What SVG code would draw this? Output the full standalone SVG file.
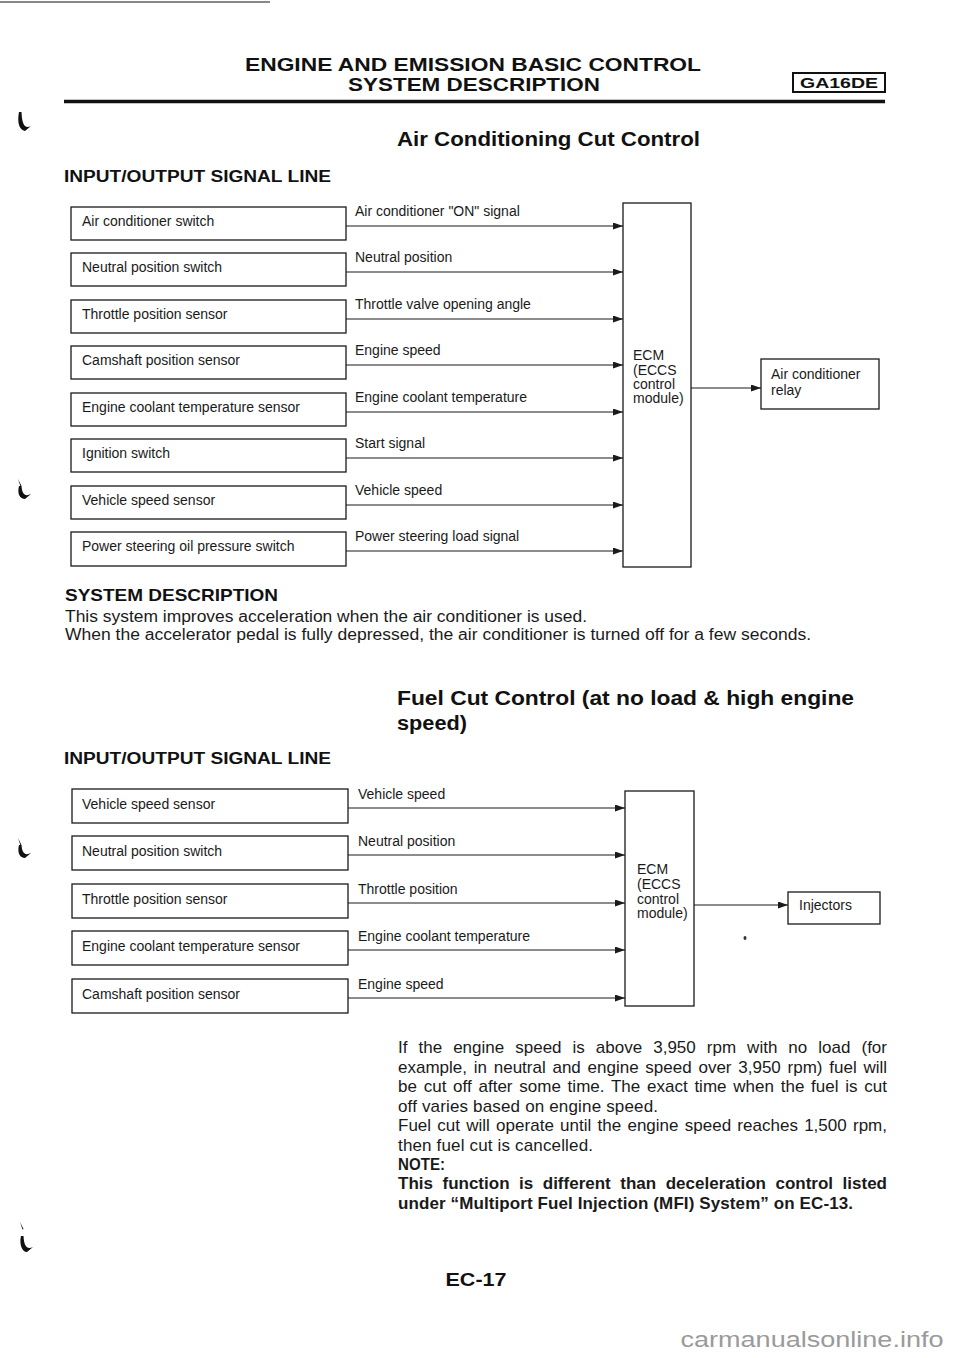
<svg xmlns="http://www.w3.org/2000/svg" width="960" height="1358" viewBox="0 0 960 1358">
<defs>
<marker id="arr" markerUnits="userSpaceOnUse" markerWidth="11" markerHeight="8" refX="10" refY="3.5" orient="auto"><path d="M0,0 L10,3.5 L0,7 Z" fill="#1a1a1a"/></marker>
<style>
.box{fill:none;stroke:#1a1a1a;stroke-width:1.3}
.t{font-family:"Liberation Sans",Arial,sans-serif;font-size:14px;fill:#1a1a1a}
.p{font-family:"Liberation Sans",Arial,sans-serif;font-size:17px;fill:#1a1a1a}
.s{font-family:"Liberation Sans",Arial,sans-serif;font-size:16px;fill:#1a1a1a}
.h{font-family:"Liberation Sans",Arial,sans-serif;font-weight:bold;fill:#111}
.conn line{stroke:#1a1a1a;stroke-width:1.2;marker-end:url(#arr)}
.mark{fill:#111}
</style>
</defs>
<rect width="960" height="1358" fill="#fff"/>
<line x1="0" y1="2" x2="270" y2="2" stroke="#888" stroke-width="2"/>
<!-- header -->
<text class="h" x="473" y="70.5" font-size="18" text-anchor="middle" textLength="456" lengthAdjust="spacingAndGlyphs">ENGINE AND EMISSION BASIC CONTROL</text>
<text class="h" x="474" y="91" font-size="18" text-anchor="middle" textLength="252" lengthAdjust="spacingAndGlyphs">SYSTEM DESCRIPTION</text>
<rect x="793" y="73" width="92" height="19" fill="none" stroke="#111" stroke-width="2"/>
<text class="h" x="839" y="88" font-size="15" text-anchor="middle" textLength="78" lengthAdjust="spacingAndGlyphs">GA16DE</text>
<line x1="64" y1="101.5" x2="885" y2="101.5" stroke="#111" stroke-width="3.5"/>
<!-- binding marks -->
<path class="mark" d="M19,112 C17,122 19,130 25,131 L31,126 C25,129 22,125 21.5,112 Z"/>
<path class="mark" d="M18,479 L21.5,486 L20.5,486.5 Z"/>
<path class="mark" d="M19,486 C17,494 20,499 25,499 L31,494 C25,497 22,494 21.5,486 Z"/>
<path class="mark" d="M18,838 L21.5,845 L20.5,845.5 Z"/>
<path class="mark" d="M19,845 C17,853 20,858 25,858 L31,853 C25,856 22,853 21.5,845 Z"/>
<path class="mark" d="M20,1222 L23.5,1229 L22.5,1229.5 Z"/>
<path class="mark" d="M21,1236 C19,1244 22,1252 27,1252 L33,1247 C27,1250 24,1246 23.5,1236 Z"/>

<text class="h" x="397" y="146" font-size="20" textLength="303" lengthAdjust="spacingAndGlyphs">Air Conditioning Cut Control</text>
<text class="h" x="64" y="182" font-size="16" textLength="267" lengthAdjust="spacingAndGlyphs">INPUT/OUTPUT SIGNAL LINE</text>

<!-- top diagram nodes -->
<g id="n-ac-switch"><rect class="box" x="71" y="207" width="275" height="33"/><text class="t" x="82" y="226">Air conditioner switch</text></g>
<g id="n-neutral-switch"><rect class="box" x="71" y="253" width="275" height="33"/><text class="t" x="82" y="272">Neutral position switch</text></g>
<g id="n-tps"><rect class="box" x="71" y="300" width="275" height="33"/><text class="t" x="82" y="319">Throttle position sensor</text></g>
<g id="n-cmp"><rect class="box" x="71" y="346" width="275" height="33"/><text class="t" x="82" y="365">Camshaft position sensor</text></g>
<g id="n-ect"><rect class="box" x="71" y="393" width="275" height="33"/><text class="t" x="82" y="412">Engine coolant temperature sensor</text></g>
<g id="n-ign"><rect class="box" x="71" y="439" width="275" height="33"/><text class="t" x="82" y="458">Ignition switch</text></g>
<g id="n-vss"><rect class="box" x="71" y="486" width="275" height="33"/><text class="t" x="82" y="505">Vehicle speed sensor</text></g>
<g id="n-ps"><rect class="box" x="71" y="532" width="275" height="34"/><text class="t" x="82" y="551">Power steering oil pressure switch</text></g>
<g id="n-ecm1"><rect class="box" x="623" y="203" width="68" height="364"/>
<text class="t" x="633" y="360">ECM</text><text class="t" x="633" y="375">(ECCS</text><text class="t" x="633" y="389">control</text><text class="t" x="633" y="403">module)</text></g>
<g id="n-relay"><rect class="box" x="761" y="359" width="118" height="50"/><text class="t" x="771" y="379">Air conditioner</text><text class="t" x="771" y="395">relay</text></g>

<g id="connectors-top" class="conn">
<line x1="346" y1="226" x2="623" y2="226"/>
<line x1="346" y1="272" x2="623" y2="272"/>
<line x1="346" y1="319" x2="623" y2="319"/>
<line x1="346" y1="365" x2="623" y2="365"/>
<line x1="346" y1="412" x2="623" y2="412"/>
<line x1="346" y1="458" x2="623" y2="458"/>
<line x1="346" y1="505" x2="623" y2="505"/>
<line x1="346" y1="551" x2="623" y2="551"/>
<line x1="691" y1="388" x2="761" y2="388"/>
</g>
<g id="labels-top">
<text class="t" x="355" y="216">Air conditioner "ON" signal</text>
<text class="t" x="355" y="262">Neutral position</text>
<text class="t" x="355" y="309">Throttle valve opening angle</text>
<text class="t" x="355" y="355">Engine speed</text>
<text class="t" x="355" y="402">Engine coolant temperature</text>
<text class="t" x="355" y="448">Start signal</text>
<text class="t" x="355" y="495">Vehicle speed</text>
<text class="t" x="355" y="541">Power steering load signal</text>
</g>

<text class="h" x="65" y="601" font-size="17" textLength="213" lengthAdjust="spacingAndGlyphs">SYSTEM DESCRIPTION</text>
<text class="s" x="65" y="622" textLength="522" lengthAdjust="spacingAndGlyphs">This system improves acceleration when the air conditioner is used.</text>
<text class="s" x="65" y="640" textLength="746" lengthAdjust="spacingAndGlyphs">When the accelerator pedal is fully depressed, the air conditioner is turned off for a few seconds.</text>

<text class="h" x="397" y="705" font-size="20" textLength="457" lengthAdjust="spacingAndGlyphs">Fuel Cut Control (at no load &amp; high engine</text>
<text class="h" x="397" y="730" font-size="20" textLength="70" lengthAdjust="spacingAndGlyphs">speed)</text>
<text class="h" x="64" y="764" font-size="16" textLength="267" lengthAdjust="spacingAndGlyphs">INPUT/OUTPUT SIGNAL LINE</text>

<!-- bottom diagram nodes -->
<g id="n2-vss"><rect class="box" x="72" y="789" width="276" height="34"/><text class="t" x="82" y="809">Vehicle speed sensor</text></g>
<g id="n2-neutral"><rect class="box" x="72" y="836" width="276" height="34"/><text class="t" x="82" y="856">Neutral position switch</text></g>
<g id="n2-tps"><rect class="box" x="72" y="884" width="276" height="34"/><text class="t" x="82" y="904">Throttle position sensor</text></g>
<g id="n2-ect"><rect class="box" x="72" y="931" width="276" height="34"/><text class="t" x="82" y="951">Engine coolant temperature sensor</text></g>
<g id="n2-cmp"><rect class="box" x="72" y="979" width="276" height="34"/><text class="t" x="82" y="999">Camshaft position sensor</text></g>
<g id="n2-ecm"><rect class="box" x="625" y="791" width="69" height="215"/>
<text class="t" x="637" y="874">ECM</text><text class="t" x="637" y="889">(ECCS</text><text class="t" x="637" y="904">control</text><text class="t" x="637" y="918">module)</text></g>
<g id="n2-inj"><rect class="box" x="788" y="892" width="92" height="32"/><text class="t" x="799" y="910">Injectors</text></g>
<ellipse cx="745" cy="938" rx="1.5" ry="2" fill="#333"/>

<g id="connectors-bottom" class="conn">
<line x1="348" y1="808" x2="625" y2="808"/>
<line x1="348" y1="855" x2="625" y2="855"/>
<line x1="348" y1="903" x2="625" y2="903"/>
<line x1="348" y1="950" x2="625" y2="950"/>
<line x1="348" y1="998" x2="625" y2="998"/>
<line x1="694" y1="905" x2="788" y2="905"/>
</g>
<g id="labels-bottom">
<text class="t" x="358" y="799">Vehicle speed</text>
<text class="t" x="358" y="846">Neutral position</text>
<text class="t" x="358" y="894">Throttle position</text>
<text class="t" x="358" y="941">Engine coolant temperature</text>
<text class="t" x="358" y="989">Engine speed</text>
</g>

<g id="paragraph">
<text class="p" x="398" y="1053" word-spacing="6.3" textLength="489" lengthAdjust="spacing">If the engine speed is above 3,950 rpm with no load (for</text>
<text class="p" x="398" y="1072.5" word-spacing="2" textLength="489" lengthAdjust="spacing">example, in neutral and engine speed over 3,950 rpm) fuel will</text>
<text class="p" x="398" y="1092" word-spacing="2" textLength="489" lengthAdjust="spacing">be cut off after some time. The exact time when the fuel is cut</text>
<text class="p" x="398" y="1111.5" textLength="260" lengthAdjust="spacing">off varies based on engine speed.</text>
<text class="p" x="398" y="1131" word-spacing="1.5" textLength="489" lengthAdjust="spacing">Fuel cut will operate until the engine speed reaches 1,500 rpm,</text>
<text class="p" x="398" y="1150.5" textLength="195" lengthAdjust="spacing">then fuel cut is cancelled.</text>
<text class="p" x="398" y="1170" font-weight="bold" textLength="47" lengthAdjust="spacingAndGlyphs">NOTE:</text>
<text class="p" x="398" y="1189" font-weight="bold" word-spacing="4.8" textLength="489" lengthAdjust="spacing">This function is different than deceleration control listed</text>
<text class="p" x="398" y="1208.5" font-weight="bold" textLength="455" lengthAdjust="spacing">under “Multiport Fuel Injection (MFI) System” on EC-13.</text>
</g>

<text class="h" x="476" y="1286" font-size="18" text-anchor="middle" textLength="61" lengthAdjust="spacingAndGlyphs">EC-17</text>
<text x="812" y="1347" font-family="Liberation Sans Narrow,Liberation Sans,Arial,sans-serif" font-size="22" fill="#9a9a9a" text-anchor="middle" textLength="263" lengthAdjust="spacingAndGlyphs">carmanualsonline.info</text>
</svg>
